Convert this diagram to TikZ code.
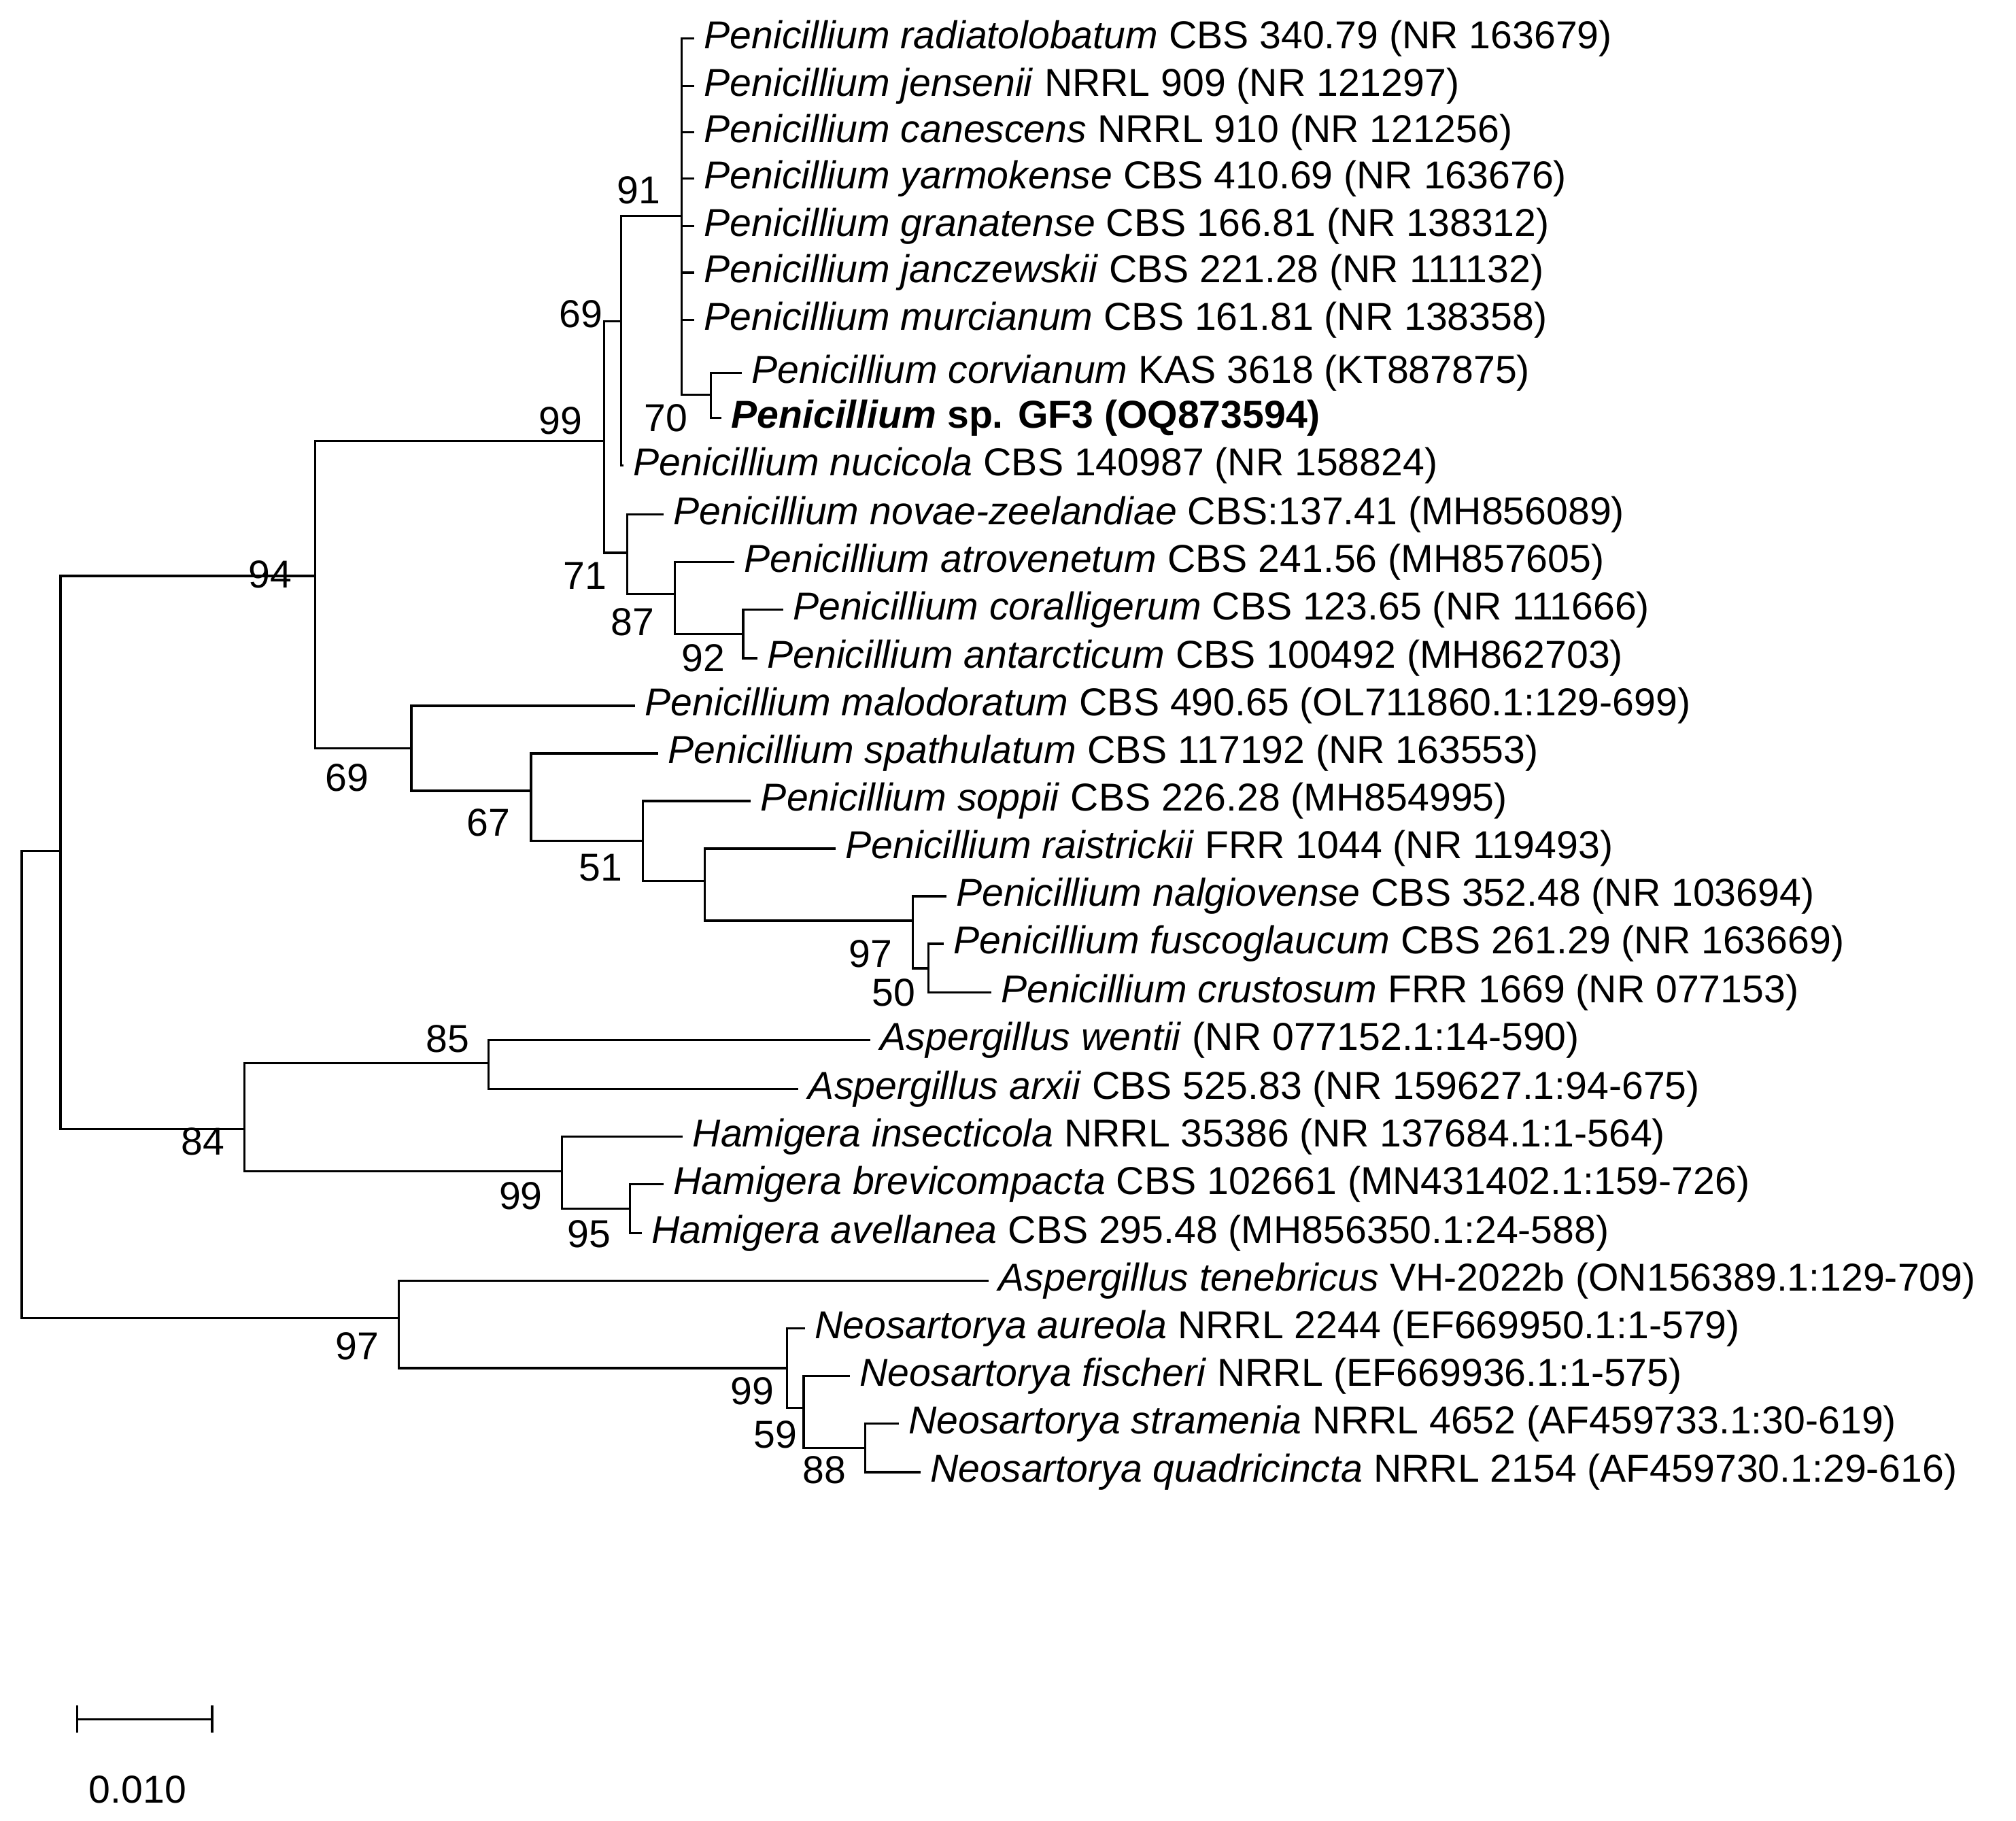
\documentclass[tikz,border=0pt]{standalone}
\usepackage{fontspec}
\setmainfont{Liberation Sans}
\begin{document}
\begin{tikzpicture}[x=0.01cm,y=-0.01cm,
  leaf/.style={anchor=west,inner xsep=2pt,inner ysep=0pt,font=\fontsize{8.6}{10}\selectfont},
  bs/.style={font=\fontsize{8.6}{10}\selectfont,inner sep=0pt},
  br/.style={line width=0.5pt}]
\useasboundingbox (0,0) rectangle (1568,1416);
\newcommand{\lf}[4]{\node[leaf] (#1) at (#2,#3) {#4};}
% leaves
\lf{l1}{540}{30}{\textit{Penicillium radiatolobatum} CBS 340.79 (NR 163679)}
\lf{l2}{540}{67}{\textit{Penicillium jensenii} NRRL 909 (NR 121297)}
\lf{l3}{540}{103}{\textit{Penicillium canescens} NRRL 910 (NR 121256)}
\lf{l4}{540}{139}{\textit{Penicillium yarmokense} CBS 410.69 (NR 163676)}
\lf{l5}{540}{176}{\textit{Penicillium granatense} CBS 166.81 (NR 138312)}
\lf{l6}{540}{212}{\textit{Penicillium janczewskii} CBS 221.28 (NR 111132)}
\lf{l7}{540}{249}{\textit{Penicillium murcianum} CBS 161.81 (NR 138358)}
\lf{l8}{577}{290}{\textit{Penicillium corvianum} KAS 3618 (KT887875)}
\lf{l9}{561}{325}{\textbf{\textit{Penicillium} sp. GF3 (OQ873594)}}
\lf{l10}{485}{362}{\textit{Penicillium nucicola} CBS 140987 (NR 158824)}
\lf{l11}{516}{400}{\textit{Penicillium novae-zeelandiae} CBS:137.41 (MH856089)}
\lf{l12}{571}{437}{\textit{Penicillium atrovenetum} CBS 241.56 (MH857605)}
\lf{l13}{609}{474}{\textit{Penicillium coralligerum} CBS 123.65 (NR 111666)}
\lf{l14}{589}{512}{\textit{Penicillium antarcticum} CBS 100492 (MH862703)}
\lf{l15}{494}{549}{\textit{Penicillium malodoratum} CBS 490.65 (OL711860.1:129-699)}
\lf{l16}{512}{586}{\textit{Penicillium spathulatum} CBS 117192 (NR 163553)}
\lf{l17}{584}{623}{\textit{Penicillium soppii} CBS 226.28 (MH854995)}
\lf{l18}{650}{660}{\textit{Penicillium raistrickii} FRR 1044 (NR 119493)}
\lf{l19}{736}{697}{\textit{Penicillium nalgiovense} CBS 352.48 (NR 103694)}
\lf{l20}{734}{734}{\textit{Penicillium fuscoglaucum} CBS 261.29 (NR 163669)}
\lf{l21}{771}{772}{\textit{Penicillium crustosum} FRR 1669 (NR 077153)}
\lf{l22}{677}{809}{\textit{Aspergillus wentii} (NR 077152.1:14-590)}
\lf{l23}{621}{847}{\textit{Aspergillus arxii} CBS 525.83 (NR 159627.1:94-675)}
\lf{l24}{531}{884}{\textit{Hamigera insecticola} NRRL 35386 (NR 137684.1:1-564)}
\lf{l25}{516}{921}{\textit{Hamigera brevicompacta} CBS 102661 (MN431402.1:159-726)}
\lf{l26}{499}{959}{\textit{Hamigera avellanea} CBS 295.48 (MH856350.1:24-588)}
\lf{l27}{769}{996}{\textit{Aspergillus tenebricus} VH-2022b (ON156389.1:129-709)}
\lf{l28}{626}{1033}{\textit{Neosartorya aureola} NRRL 2244 (EF669950.1:1-579)}
\lf{l29}{661}{1070}{\textit{Neosartorya fischeri} NRRL (EF669936.1:1-575)}
\lf{l30}{699}{1107}{\textit{Neosartorya stramenia} NRRL 4652 (AF459733.1:30-619)}
\lf{l31}{716}{1145}{\textit{Neosartorya quadricincta} NRRL 2154 (AF459730.1:29-616)}
% internal nodes (x, joining y)
\coordinate (root) at (17,843);
\coordinate (nA) at (47,662);
\coordinate (nP) at (245,448);
\coordinate (n99) at (470,343);
\coordinate (n69) at (483,250);
\coordinate (n91) at (530,168);
\coordinate (n70) at (553,307);
\coordinate (n71) at (488,430);
\coordinate (n87) at (525,462);
\coordinate (n92) at (578,493);
\coordinate (m69) at (320,582);
\coordinate (n67) at (413,615);
\coordinate (n51) at (500,654);
\coordinate (nq) at (548,685);
\coordinate (n97) at (710,716);
\coordinate (n50) at (722,753);
\coordinate (n84) at (190,878);
\coordinate (n85) at (380,827);
\coordinate (h99) at (437,911);
\coordinate (n95) at (490,940);
\coordinate (a97) at (310,1025);
\coordinate (a99) at (612,1064);
\coordinate (n59) at (625,1095);
\coordinate (n88) at (673,1126);
% edges
\foreach \p/\c in {root/nA,root/a97,nA/nP,nA/n84,nP/n99,nP/m69,n99/n69,n99/n71,
  n69/n91,n69/l10.west,n91/l1.west,n91/l2.west,n91/l3.west,n91/l4.west,n91/l5.west,n91/l6.west,n91/l7.west,n91/n70,
  n70/l8.west,n70/l9.west,n71/l11.west,n71/n87,n87/l12.west,n87/n92,n92/l13.west,n92/l14.west,
  m69/l15.west,m69/n67,n67/l16.west,n67/n51,n51/l17.west,n51/nq,nq/l18.west,nq/n97,n97/l19.west,n97/n50,n50/l20.west,n50/l21.west,
  n84/n85,n84/h99,n85/l22.west,n85/l23.west,h99/l24.west,h99/n95,n95/l25.west,n95/l26.west,
  a97/l27.west,a97/a99,a99/l28.west,a99/n59,n59/l29.west,n59/n88,n88/l30.west,n88/l31.west}
  \draw[br] (\p) |- (\c);
% bootstrap
\foreach \x/\y/\t in {497/148/91,452/244/69,436/327/99,518/325/70,210/447/94,455/448/71,492/484/87,547/512/92,
  270/605/69,380/640/67,467/675/51,677/742/97,695/772/50,348/808/85,158/888/84,405/930/99,458/960/95,
  278/1047/97,585/1082/99,603/1116/59,641/1143/88}
  \node[bs] at (\x,\y) {\t};
% scale bar
\coordinate (s1) at (60,1337); \coordinate (s2) at (165,1337);
\draw[br] (s1) -- (s2);
\draw[br] ([yshift=-3pt]s1) -- ([yshift=3pt]s1);
\draw[br] ([yshift=-3pt]s2) -- ([yshift=3pt]s2);
\node[bs] (sl) at (107,1392) {0.010};
\end{tikzpicture}
\end{document}
